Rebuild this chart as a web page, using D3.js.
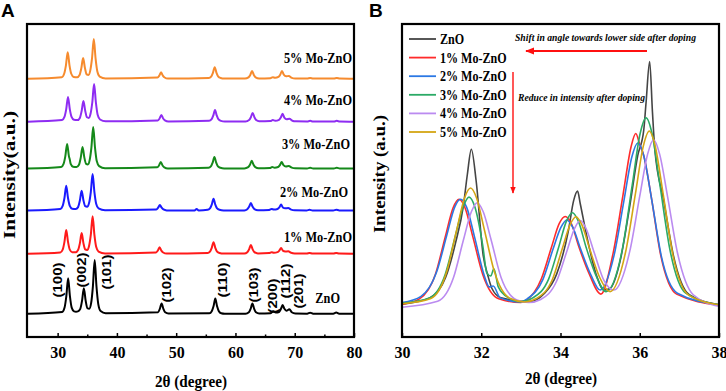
<!DOCTYPE html>
<html>
<head>
<meta charset="utf-8">
<script src="https://cdn.jsdelivr.net/npm/d3@7"></script>
<style>
  body { margin: 0; background: #fff; }
  svg { display: block; }
</style>
</head>
<body>
<svg id="chart" width="726" height="391"></svg>
<script>
// ---- data: panel A (full XRD patterns, 2theta vs intensity a.u.) ----
const namesA = ["ZnO", "1% Mo-ZnO", "2% Mo-ZnO", "3% Mo-ZnO", "4% Mo-ZnO", "5% Mo-ZnO"];
const offsetsA = [7.3, 26.5, 40.3, 53.7, 68.7, 82.4];

const xrdZnO = [[25,0.1],[30.77,0.7],[31.17,2.1],[31.47,5.8],[31.77,11.5],[32.07,5.8],[32.37,2.1],[32.77,0.9],[33.1,0.8],[33.42,0.9],[33.82,1.7],[34.12,4.3],[34.42,8.3],[34.72,4.4],[35.02,1.9],[35.33,1.7],[35.65,3.5],[35.95,8.9],[36.25,17.3],[36.55,8.9],[36.85,3.3],[37.25,1.0],[38.1,0.3],
  [46.94,0.6],[47.24,1.7],[47.54,3.4],[47.84,1.7],[48.14,0.6],[48.7,0.2],
  [55.6,0.3],[56.0,0.95],[56.3,2.5],[56.6,5.0],[56.9,2.5],[57.2,0.95],[57.6,0.3],[58.2,0.15],
  [61.7,0.15],[62.26,0.6],[62.56,1.7],[62.86,3.4],[63.16,1.7],[63.46,0.6],[64.0,0.2],
  [65.9,0.3],[66.38,0.9],[66.8,0.5],[67.36,0.7],[67.66,1.6],[67.96,2.9],[68.26,1.7],[68.6,1.1],[69.1,1.6],[69.5,0.6],[70.1,0.2],
  [72.1,0.15],[72.6,0.45],[73.1,0.15],[76.5,0.15],[77.0,0.5],[77.5,0.15],[80,0.1]];

const xrdMo1 = [[25,0.1],[30.45,0.5],[30.85,1.4],[31.15,3.9],[31.45,7.7],[31.75,3.9],[32.05,1.4],[32.45,0.6],[32.8,0.6],[33.05,0.6],[33.45,1.3],[33.75,3.4],[34.05,6.7],[34.35,3.5],[34.65,1.5],[34.97,1.3],[35.3,2.6],[35.6,6.2],[35.9,12.1],[36.2,6.2],[36.5,2.3],[36.9,0.8],[38.0,0.2],
  [46.6,0.5],[46.9,1.1],[47.2,2.2],[47.5,1.1],[47.8,0.5],[48.4,0.15],
  [55.3,0.35],[55.7,0.8],[56.0,2.0],[56.3,3.8],[56.6,2.0],[56.9,0.8],[57.3,0.35],[58.0,0.15],
  [61.5,0.15],[62.0,0.6],[62.3,1.5],[62.6,2.9],[62.9,1.5],[63.2,0.6],[63.8,0.2],
  [65.7,0.3],[66.1,0.6],[66.5,0.4],[67.1,0.6],[67.4,1.1],[67.7,1.9],[68.0,1.1],[68.4,0.8],[68.9,0.9],[69.4,0.4],[70.0,0.2],
  [72.0,0.15],[72.5,0.35],[73.0,0.15],[76.5,0.15],[77.0,0.35],[77.5,0.15],[80,0.1]];

const xrdMo2 = [[25,0.1],[30.45,0.6],[30.85,1.6],[31.15,4.1],[31.45,8.0],[31.75,4.1],[32.05,1.6],[32.45,0.7],[33.05,0.6],[33.45,1.2],[33.75,3.3],[34.05,6.4],[34.35,3.4],[34.65,1.5],[34.97,1.3],[35.3,2.5],[35.6,6.1],[35.9,11.8],[36.2,6.1],[36.5,2.3],[36.9,0.8],[38.0,0.2],
  [46.65,0.45],[46.95,1.0],[47.25,1.9],[47.55,1.0],[47.85,0.45],[48.4,0.15],
  [53.1,0.15],[53.45,0.6],[53.8,0.15],
  [55.3,0.35],[55.7,0.8],[56.0,2.0],[56.3,3.9],[56.6,2.0],[56.9,0.8],[57.3,0.35],[58.0,0.15],
  [61.5,0.15],[62.0,0.55],[62.3,1.3],[62.6,2.5],[62.9,1.3],[63.2,0.55],[63.8,0.2],
  [65.7,0.3],[66.1,0.6],[66.5,0.4],[67.1,0.6],[67.4,1.1],[67.7,2.0],[68.0,1.1],[68.4,0.8],[68.9,0.9],[69.4,0.4],[70.0,0.2],
  [72.0,0.15],[72.5,0.35],[73.0,0.15],[76.5,0.15],[77.0,0.35],[77.5,0.15],[80,0.1]];

const xrdMo3 = [[25,0.1],[30.6,0.6],[31.0,1.6],[31.3,4.1],[31.6,8.0],[31.9,4.1],[32.05,3.0],[32.2,1.6],[32.6,0.7],[33.2,0.6],[33.6,1.3],[33.9,3.6],[34.2,7.0],[34.5,3.7],[34.8,1.6],[35.1,1.4],[35.4,2.8],[35.7,6.9],[36.0,13.4],[36.3,6.9],[36.6,2.5],[37.0,0.9],[38.0,0.2],
  [46.8,0.5],[47.1,1.1],[47.4,2.2],[47.7,1.1],[48.0,0.5],[48.6,0.15],
  [55.45,0.35],[55.85,0.8],[56.15,2.0],[56.45,3.8],[56.75,2.0],[57.05,0.8],[57.45,0.35],[58.1,0.15],
  [61.5,0.15],[62.15,0.55],[62.45,1.3],[62.75,2.6],[63.05,1.3],[63.35,0.55],[63.9,0.2],
  [65.8,0.3],[66.2,0.6],[66.6,0.4],[67.2,0.6],[67.5,1.2],[67.8,2.2],[68.1,1.2],[68.5,0.8],[69.0,0.9],[69.5,0.4],[70.1,0.2],
  [72.1,0.15],[72.6,0.35],[73.1,0.15],[76.6,0.15],[77.1,0.35],[77.6,0.15],[80,0.1]];

const xrdMo4 = [[25,0.1],[30.75,0.6],[31.15,1.6],[31.45,4.1],[31.75,8.0],[32.05,4.1],[32.35,1.6],[32.75,0.7],[33.35,0.6],[33.75,1.3],[34.05,3.5],[34.35,6.7],[34.65,3.6],[34.95,1.5],[35.25,1.3],[35.55,2.6],[35.85,6.3],[36.15,12.1],[36.45,6.3],[36.75,2.3],[37.15,0.8],[38.1,0.2],
  [46.9,0.5],[47.2,1.1],[47.5,2.2],[47.8,1.1],[48.1,0.5],[48.7,0.15],
  [55.55,0.35],[55.95,0.8],[56.25,2.0],[56.55,3.8],[56.85,2.0],[57.15,0.8],[57.55,0.35],[58.2,0.15],
  [61.7,0.15],[62.3,0.6],[62.6,1.5],[62.9,2.9],[63.2,1.5],[63.5,0.6],[64.0,0.2],
  [65.9,0.3],[66.3,0.6],[66.7,0.4],[67.35,0.7],[67.65,1.4],[67.95,2.6],[68.25,1.4],[68.65,0.9],[69.1,1.0],[69.6,0.4],[70.2,0.2],
  [72.1,0.15],[72.6,0.35],[73.1,0.15],[76.6,0.15],[77.1,0.35],[77.6,0.15],[80,0.1]];

const xrdMo5 = [[25,0.1],[30.7,0.6],[31.1,1.7],[31.4,4.4],[31.7,8.6],[32.0,4.4],[32.3,1.7],[32.7,0.7],[33.3,0.6],[33.7,1.3],[34.0,3.5],[34.3,6.7],[34.6,3.6],[34.9,1.5],[35.2,1.3],[35.5,2.7],[35.8,6.6],[36.1,12.8],[36.4,6.6],[36.7,2.4],[37.1,0.8],[38.1,0.2],
  [46.85,0.5],[47.15,1.1],[47.45,2.2],[47.75,1.1],[48.05,0.5],[48.6,0.15],
  [55.5,0.35],[55.9,0.8],[56.2,2.0],[56.5,3.8],[56.8,2.0],[57.1,0.8],[57.5,0.35],[58.1,0.15],
  [61.6,0.15],[62.2,0.55],[62.5,1.3],[62.8,2.6],[63.1,1.3],[63.4,0.55],[64.0,0.2],
  [65.9,0.3],[66.3,0.6],[66.7,0.4],[67.25,0.7],[67.55,1.4],[67.85,2.6],[68.15,1.4],[68.55,0.9],[69.0,1.0],[69.5,0.4],[70.1,0.2],
  [72.1,0.15],[72.6,0.35],[73.1,0.15],[76.6,0.15],[77.1,0.35],[77.6,0.15],[80,0.1]];

const millerLabels = ["(100)", "(002)", "(101)", "(102)", "(110)", "(103)", "(200)", "(112)", "(201)"];

const ticksA = [30, 40, 50, 60, 70, 80];
const minorTicksA = [35, 45, 55, 65, 75];

// ---- data: panel B (zoom of the 30-38 degree region) ----
const namesB = ["ZnO", "1% Mo-ZnO", "2% Mo-ZnO", "3% Mo-ZnO", "4% Mo-ZnO", "5% Mo-ZnO"];

const zoomZnO = [[30.0,10.5],[30.7,12.5],[31.1,19],[31.35,30],[31.55,42],[31.65,52],[31.75,60],[31.87,50],[32.05,26],[32.17,19.5],[32.27,15.5],[32.5,12.5],[33.2,11.3],[33.6,14],[33.9,20],[34.2,34],[34.33,43.5],[34.43,46.6],[34.5,42.5],[34.65,33],[34.9,20],[35.1,15],[35.25,15.5],[35.5,24],[35.75,42],[35.95,58],[36.1,66],[36.16,75],[36.25,88],[36.32,72],[36.38,60],[36.6,44],[36.85,26],[37.25,13.5],[38.0,10.3]];
const zoomMo1 = [[30.0,10.5],[30.44,12.2],[30.84,19.9],[31.09,31.9],[31.29,41.3],[31.44,44],[31.59,41.3],[31.79,31.9],[32.04,19.9],[32.44,12.2],[33.0,11.0],[33.12,11.6],[33.52,18.7],[33.77,28.6],[33.97,36.3],[34.12,38.5],[34.27,36.3],[34.47,28.6],[34.72,20.3],[35.02,13.7],[35.33,26.9],[35.58,45.6],[35.78,60.7],[35.9,65],[36.0,61.5],[36.1,58],[36.28,45.6],[36.53,26.1],[36.93,13.7],[38.0,10.2]];
const zoomMo2 = [[30.0,11],[30.48,13],[30.88,21],[31.13,32.5],[31.33,41.5],[31.48,44],[31.63,41.5],[31.83,32],[32.08,19.5],[32.2,16],[32.3,16.3],[32.48,12.5],[33.0,11.2],[33.16,12.2],[33.56,18.5],[33.81,28],[34.01,35],[34.16,37.4],[34.31,35],[34.51,28],[34.76,20],[35.0,15],[35.35,26],[35.6,43.5],[35.8,57.5],[35.95,62],[36.1,58],[36.3,44],[36.55,25.5],[36.95,14],[38.0,10.3]];
const zoomMo3 = [[30.0,10.8],[30.69,12.5],[31.09,20],[31.34,32],[31.54,41.5],[31.69,44.7],[31.84,41.5],[32.04,29],[32.14,20.5],[32.24,19.5],[32.32,21.8],[32.43,16],[32.69,12.5],[33.0,11.3],[33.3,12.5],[33.7,18.5],[33.95,28.5],[34.15,37],[34.3,39.7],[34.45,37],[34.65,28.5],[34.9,19.5],[35.15,14.5],[35.56,28],[35.81,48.5],[36.01,65],[36.16,70],[36.31,65],[36.51,48.5],[36.76,28],[37.16,14],[38.0,10.3]];
const zoomMo4 = [[30.0,9.5],[30.9,11.4],[31.3,19],[31.55,31],[31.75,40],[31.9,42.9],[32.05,40],[32.25,31],[32.5,19],[32.9,11.8],[33.2,11.0],[33.5,12],[33.9,17.8],[34.15,27],[34.35,34.5],[34.5,37.2],[34.65,34.5],[34.85,27],[35.1,18],[35.35,15],[35.75,27.5],[36.0,45],[36.2,58.5],[36.35,63],[36.5,58.5],[36.7,45],[36.95,27],[37.35,13.5],[38.0,9.8]];
const zoomMo5 = [[30.0,10.6],[30.73,12.3],[31.13,20.9],[31.38,34.2],[31.58,44.5],[31.73,47.6],[31.88,44.5],[32.08,34.2],[32.33,20.9],[32.73,12.3],[33.1,11.2],[33.39,12.3],[33.79,18.2],[34.04,28],[34.24,35.8],[34.39,38.4],[34.54,35.8],[34.74,28],[34.99,19],[35.25,14.5],[35.64,27],[35.89,45.7],[36.09,61],[36.24,65.8],[36.39,61],[36.59,45.7],[36.84,26],[37.24,13.3],[38.0,10.3]];

const ticksB = [30, 32, 34, 36, 38];

// ---- styles / layout ----
const colorsA = ["#000000", "#ff1a1a", "#1a1aff", "#15891a", "#8e2cf2", "#f68b2e"];
const colorsB = ["#454545", "#ff2b2b", "#2b78e4", "#2baa66", "#bb8bf0", "#d4a514"];
const serif = "'Liberation Serif', 'Times New Roman', serif";
const sans = "'Liberation Sans', Arial, sans-serif";

const svg = d3.select("#chart");

// shrink text horizontally (source figure uses a narrow-looking bold serif)
function condense(sel, k) {
  sel.each(function () {
    const w = this.getComputedTextLength();
    d3.select(this).attr("textLength", w * k).attr("lengthAdjust", "spacingAndGlyphs");
  });
}
function fitText(sel, w) {
  sel.attr("textLength", w).attr("lengthAdjust", "spacingAndGlyphs");
}

// ================= Panel A =================
const boxA = { left: 27, right: 354, top: 24, bottom: 337 };
const xA = d3.scaleLinear().domain([25, 80]).range([28, 354]);
const yA = d3.scaleLinear().domain([0, 100]).range([boxA.bottom, boxA.top]);

const gA = svg.append("g");

const seriesA = [xrdZnO, xrdMo1, xrdMo2, xrdMo3, xrdMo4, xrdMo5].map((pts, i) => ({
  name: namesA[i], pts, off: offsetsA[i], color: colorsA[i]
}));

seriesA.forEach((s) => {
  const line = d3.line()
    .x((d) => xA(d[0]))
    .y((d) => yA(d[1] + s.off))
    .curve(d3.curveMonotoneX);
  gA.append("path")
    .datum(s.pts)
    .attr("d", line)
    .attr("fill", "none")
    .attr("stroke", s.color)
    .attr("stroke-width", 2)
    .attr("stroke-linejoin", "round");
});

// series labels
const labelEndA = [340, 352, 348, 350, 352, 352];
const labelYA = [303, 242, 197, 149, 105, 63];
gA.selectAll(".slab")
  .data(namesA)
  .enter()
  .append("text")
  .attr("class", "slab")
  .attr("x", (d, i) => labelEndA[i])
  .attr("y", (d, i) => labelYA[i])
  .attr("text-anchor", "end")
  .style("font-family", serif)
  .style("font-weight", "bold")
  .style("font-size", "14px")
  .text((d) => d)
  .call(condense, 0.88);

// Miller indices, rotated
const millerCx = [57, 81, 106, 166, 222, 253, 272, 285, 298];
const millerCy = [280, 270, 272, 285, 280, 285, 296, 281, 291];
gA.selectAll(".hkl")
  .data(millerLabels)
  .enter()
  .append("text")
  .attr("class", "hkl")
  .attr("transform", (d, i) => `translate(${millerCx[i] + 4.5},${millerCy[i]}) rotate(-90)`)
  .attr("text-anchor", "middle")
  .style("font-family", sans)
  .style("font-weight", "bold")
  .style("font-size", "13px")
  .text((d) => d)
  .call(fitText, 35);

// box and axis
gA.append("rect")
  .attr("x", boxA.left).attr("y", boxA.top)
  .attr("width", boxA.right - boxA.left).attr("height", boxA.bottom - boxA.top)
  .attr("fill", "none").attr("stroke", "#000").attr("stroke-width", 2.2);

const axA = gA.append("g")
  .attr("transform", `translate(0,${boxA.bottom})`)
  .call(d3.axisBottom(xA).tickValues(ticksA).tickSizeInner(-4).tickSizeOuter(0).tickPadding(10));
gA.append("g")
  .attr("transform", `translate(0,${boxA.bottom})`)
  .call(d3.axisBottom(xA).tickValues(minorTicksA).tickSizeInner(-2.5).tickSizeOuter(0).tickFormat(""))
  .call((g) => g.select(".domain").remove())
  .selectAll("line").attr("stroke-width", 1.5);
axA.select(".domain").remove();
axA.selectAll("line").attr("stroke-width", 1.5);
axA.selectAll("text")
  .style("font-family", serif)
  .style("font-weight", "bold")
  .style("font-size", "16px")
  .attr("fill", "#000");

gA.append("text")
  .attr("x", 191).attr("y", 387)
  .attr("text-anchor", "middle")
  .style("font-family", serif).style("font-weight", "bold").style("font-size", "16px")
  .text("2θ (degree)")
  .call(fitText, 72);

gA.append("text")
  .attr("transform", "translate(15,175) rotate(-90)")
  .attr("text-anchor", "middle")
  .style("font-family", serif).style("font-weight", "bold").style("font-size", "17px")
  .text("Intensity(a.u.)")
  .call(fitText, 128);

svg.append("text")
  .attr("x", 1).attr("y", 17)
  .style("font-family", sans).style("font-weight", "bold").style("font-size", "19px")
  .text("A");

// ================= Panel B =================
const boxB = { left: 402, right: 719, top: 24, bottom: 337 };
const xB = d3.scaleLinear().domain([30, 38]).range([boxB.left, boxB.right]);
const yB = d3.scaleLinear().domain([0, 100]).range([boxB.bottom, boxB.top]);

const gB = svg.append("g");

const seriesB = [zoomZnO, zoomMo1, zoomMo2, zoomMo3, zoomMo4, zoomMo5].map((pts, i) => ({
  name: namesB[i], pts, color: colorsB[i]
}));

const lineB = d3.line()
  .x((d) => xB(d[0]))
  .y((d) => yB(d[1]))
  .curve(d3.curveMonotoneX);

seriesB.forEach((s) => {
  gB.append("path")
    .datum(s.pts)
    .attr("d", lineB)
    .attr("fill", "none")
    .attr("stroke", s.color)
    .attr("stroke-width", 1.6)
    .attr("stroke-linejoin", "round");
});

// legend
const legend = gB.append("g");
seriesB.forEach((s, i) => {
  const y = 39 + i * 18.6;
  legend.append("line")
    .attr("x1", 409).attr("x2", 436)
    .attr("y1", y).attr("y2", y)
    .attr("stroke", s.color).attr("stroke-width", 1.8);
  legend.append("text")
    .attr("x", 440).attr("y", y + 5)
    .style("font-family", serif).style("font-weight", "bold").style("font-size", "14px")
    .text(s.name)
    .call(condense, 0.86);
});

// annotations
gB.append("text")
  .attr("x", 515).attr("y", 41)
  .style("font-family", serif).style("font-weight", "bold").style("font-style", "italic")
  .style("font-size", "10.5px")
  .text("Shift in angle towards lower side after doping")
  .call(fitText, 181);
gB.append("text")
  .attr("x", 518).attr("y", 101)
  .style("font-family", serif).style("font-weight", "bold").style("font-style", "italic")
  .style("font-size", "11px")
  .text("Reduce in intensity after doping")
  .call(fitText, 127);

svg.append("defs").append("marker")
  .attr("id", "arrowRed")
  .attr("viewBox", "0 0 10 10")
  .attr("refX", 9).attr("refY", 5)
  .attr("markerWidth", 5).attr("markerHeight", 5)
  .attr("markerUnits", "strokeWidth")
  .attr("orient", "auto")
  .append("path")
  .attr("d", "M0,1 L10,5 L0,9 Z")
  .attr("fill", "#ff1010");

gB.append("line")
  .attr("x1", 647).attr("y1", 51).attr("x2", 526).attr("y2", 51)
  .attr("stroke", "#ff1010").attr("stroke-width", 1.8)
  .attr("marker-end", "url(#arrowRed)");
gB.append("line")
  .attr("x1", 513).attr("y1", 72).attr("x2", 513).attr("y2", 193)
  .attr("stroke", "#ff1010").attr("stroke-width", 1.4)
  .attr("marker-end", "url(#arrowRed)");

gB.append("rect")
  .attr("x", boxB.left).attr("y", boxB.top)
  .attr("width", boxB.right - boxB.left).attr("height", boxB.bottom - boxB.top)
  .attr("fill", "none").attr("stroke", "#000").attr("stroke-width", 2.2);

const axB = gB.append("g")
  .attr("transform", `translate(0,${boxB.bottom})`)
  .call(d3.axisBottom(xB).tickValues(ticksB).tickSizeInner(-4).tickSizeOuter(0).tickPadding(10));
axB.select(".domain").remove();
axB.selectAll("line").attr("stroke-width", 1.5);
axB.selectAll("text")
  .style("font-family", serif)
  .style("font-weight", "bold")
  .style("font-size", "16px")
  .attr("fill", "#000");

gB.append("text")
  .attr("x", 561).attr("y", 384)
  .attr("text-anchor", "middle")
  .style("font-family", serif).style("font-weight", "bold").style("font-size", "16px")
  .text("2θ (degree)")
  .call(fitText, 72);

gB.append("text")
  .attr("transform", "translate(385,174) rotate(-90)")
  .attr("text-anchor", "middle")
  .style("font-family", serif).style("font-weight", "bold").style("font-size", "16px")
  .text("Intensity (a.u.)")
  .call(fitText, 118);

svg.append("text")
  .attr("x", 369).attr("y", 17)
  .style("font-family", sans).style("font-weight", "bold").style("font-size", "19px")
  .text("B");
</script>
</body>
</html>
